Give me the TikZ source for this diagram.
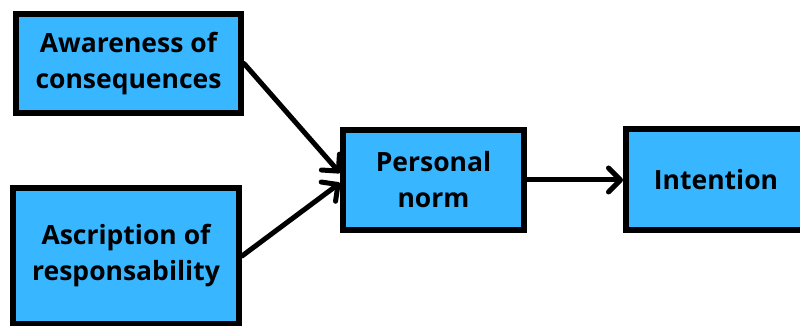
\documentclass[tikz,border=0pt]{standalone}
\usepackage{fontspec}
\setmainfont{Open Sans}
\usetikzlibrary{arrows.meta}
\definecolor{skyblue}{HTML}{38B6FF}
\begin{document}
\begin{tikzpicture}[x=1pt,y=1pt,
  box/.style={draw=black, fill=skyblue, line width=6pt, align=center,
    inner sep=0pt, font=\fontsize{26.5}{36}\selectfont\bfseries},
  link/.style={line width=5pt, line cap=round,
    -{Straight Barb[length=12pt,width=24pt,round]}}]
\useasboundingbox (0,0) rectangle (800,326);
\clip (0,0) rectangle (800,326);

% source factors
\node[box, minimum width=225pt, minimum height=99pt] (aw) at (128.5,262.5)
  {Awareness of\\consequences};
\node[box, minimum width=226pt, minimum height=136pt] (as) at (126,70)
  {Ascription of\\responsability};

% mediator and outcome
\node[box, minimum width=181pt, minimum height=100pt] (pn) at (433.5,146)
  {Personal\\norm};
\node[box, minimum width=180pt, minimum height=101pt] (in) at (716,146)
  {Intention};

% influences
\draw[link] (aw.east) -- ([yshift=7pt]pn.west);
\draw[link] (as.east) -- ([yshift=-3pt]pn.west);
\draw[link] (pn.east) -- (in.west);
\end{tikzpicture}
\end{document}
